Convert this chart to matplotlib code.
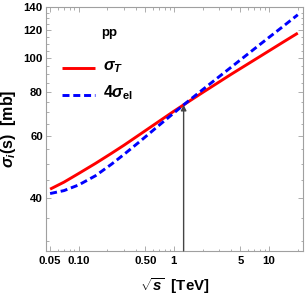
import numpy as np
import matplotlib
matplotlib.use('Agg')
import matplotlib.pyplot as plt
from matplotlib.ticker import FixedLocator, NullFormatter

plt.rcParams['font.family'] = ['Liberation Sans', 'DejaVu Sans']
plt.rcParams['font.weight'] = 'bold'
plt.rcParams['mathtext.fontset'] = 'custom'
plt.rcParams['mathtext.rm'] = 'Liberation Sans:bold'
plt.rcParams['mathtext.it'] = 'Liberation Sans:bold:italic'
plt.rcParams['mathtext.bf'] = 'Liberation Sans:bold'

# sqrt(s) in TeV
sqrt_s = [0.05, 0.07, 0.1, 0.15, 0.22, 0.3, 0.45, 0.7, 1.0, 1.264, 2.0, 4.0, 8.0, 14.0, 20.0]
# total cross section sigma_T [mb]
sigma_tot = [42.3, 44.3, 46.9, 50.1, 53.5, 56.5, 60.9, 66.1, 70.6, 73.6, 79.8, 90.0, 101.1, 111.1, 117.9]
# 4 * elastic cross section [mb]
sigma_el4 = [41.1, 41.9, 43.5, 46.2, 49.8, 53.2, 58.2, 64.4, 69.8, 73.6, 81.3, 94.3, 109.4, 123.2, 133.0]

# crossing point marked by the arrow
x_cross = 1.264
y_cross = 73.6

xticks = [0.05, 0.1, 0.5, 1, 5, 10]
xticklabels = ['0.05', '0.10', '0.50', '1', '5', '10']
xminor = [0.06, 0.07, 0.08, 0.09, 0.2, 0.3, 0.4, 0.6, 0.7, 0.8, 0.9,
          2, 3, 4, 6, 7, 8, 9, 20]
yticks = [40, 60, 80, 100, 120, 140]
yminor = [30, 35, 45, 50, 55, 65, 70, 75, 85, 90, 95, 105, 110, 115, 125, 130, 135]

fig = plt.figure(figsize=(3.07, 3.03), dpi=100)
ax = fig.add_axes([0.149, 0.172, 0.838, 0.805])

ax.plot(sqrt_s, sigma_tot, color='#ff0000', lw=2.1, solid_capstyle='butt')
ax.plot(sqrt_s, sigma_el4, color='#0000ff', lw=2.1, linestyle=(0, (2.4, 1.3)))

ax.set_xscale('log')
ax.set_yscale('log')
ax.set_xlim(0.045, 22.7)
ax.set_ylim(28.2, 140)

ax.xaxis.set_major_locator(FixedLocator(xticks))
ax.set_xticklabels(xticklabels)
ax.xaxis.set_minor_locator(FixedLocator(xminor))
ax.xaxis.set_minor_formatter(NullFormatter())
ax.yaxis.set_major_locator(FixedLocator(yticks))
ax.set_yticklabels([str(v) for v in yticks])
ax.yaxis.set_minor_locator(FixedLocator(yminor))
ax.yaxis.set_minor_formatter(NullFormatter())

for sp in ax.spines.values():
    sp.set_color('#a0a0a0')
    sp.set_linewidth(0.8)
ax.tick_params(which='both', direction='in', top=True, right=True,
               color='#a0a0a0', width=0.6, labelsize=8.2)
ax.tick_params(axis='x', which='major', pad=4)
ax.tick_params(axis='y', which='major', pad=2)
ax.tick_params(which='major', length=3.5)
ax.tick_params(which='minor', length=1.8)
for lab in ax.get_xticklabels() + ax.get_yticklabels():
    lab.set_fontweight('bold')

# arrow up to the crossing point
ax.annotate('', xy=(x_cross, y_cross), xytext=(x_cross, 28.2),
            arrowprops=dict(arrowstyle='-|>', color='#444444', lw=1.0,
                            mutation_scale=8, shrinkA=0, shrinkB=0))

# legend drawn by hand, as in the original
ax.text(0.246, 0.893, 'pp', transform=ax.transAxes, fontsize=9.5,
        fontweight='bold', ha='center', va='center')
ax.plot([0.063, 0.192], [0.75, 0.75], transform=ax.transAxes,
        color='#ff0000', lw=2.1, solid_capstyle='butt')
ax.plot([0.063, 0.192], [0.639, 0.639], transform=ax.transAxes,
        color='#0000ff', lw=2.1, linestyle=(0, (2.4, 1.3)))
ax.text(0.222, 0.752, r'$\sigma_T$', transform=ax.transAxes, fontsize=11.5,
        ha='left', va='center')
ax.text(0.222, 0.647, r'$4\sigma_{\rm el}$', transform=ax.transAxes, fontsize=11.5,
        ha='left', va='center')

ax.set_ylabel(r'$\sigma_i$(s)  [mb]', fontsize=11.5, fontweight='bold', labelpad=4)
ax.set_xlabel(r'$\sqrt{s}$  [TeV]', fontsize=10.8, fontweight='bold', labelpad=7)

fig.savefig('out.png', dpi=100)
